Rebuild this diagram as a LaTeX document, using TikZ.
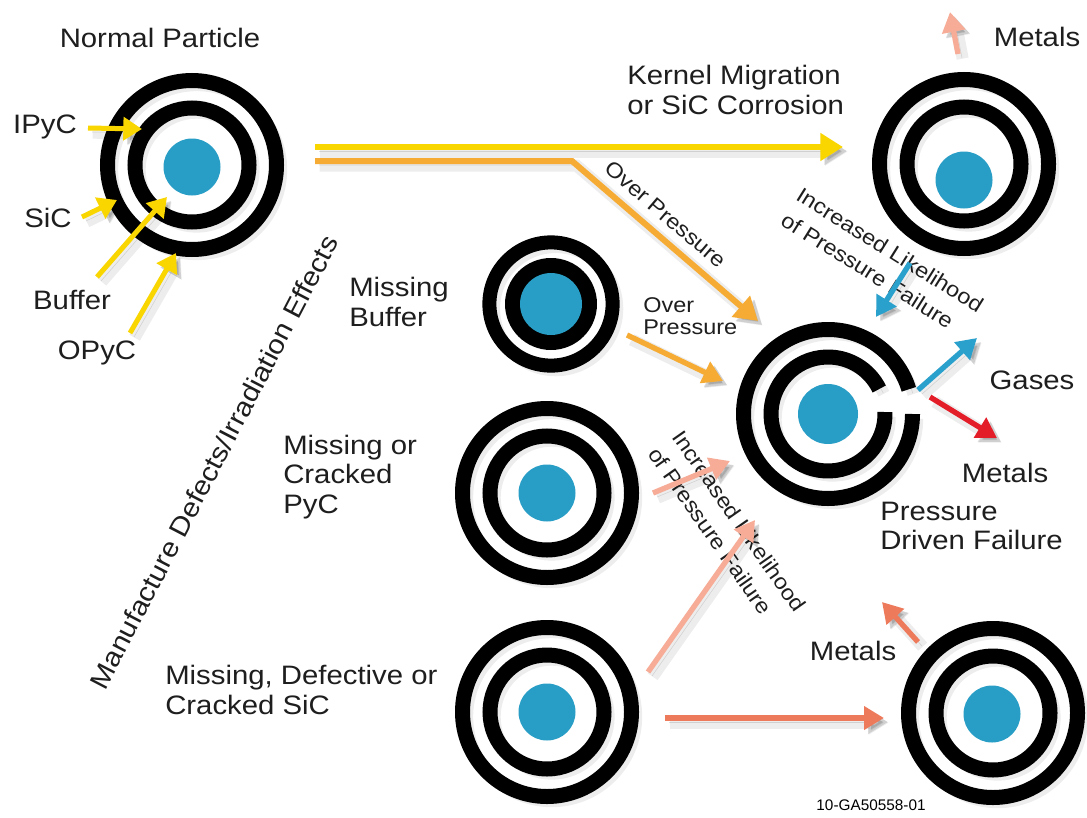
\documentclass[tikz,border=0pt]{standalone}
\usepackage{fontspec}
\setmainfont{Liberation Sans}[FakeStretch=1.1]
\newfontfamily\idfont{Liberation Sans}
\usetikzlibrary{arrows.meta}
\definecolor{kern}{RGB}{40,158,198}
\definecolor{yel}{RGB}{250,214,0}
\definecolor{org}{RGB}{246,172,52}
\definecolor{salm}{RGB}{246,172,150}
\definecolor{coral}{RGB}{238,122,92}
\definecolor{redar}{RGB}{228,30,40}
\definecolor{bluar}{RGB}{42,160,204}
\definecolor{txt}{RGB}{30,30,30}
\newcommand\stdparticle[3]{% name, ring centre, kernel centre
  \coordinate (#1) at #2;
  \draw[ring] (#1) circle[radius=84.5];
  \draw[ring] (#1) circle[radius=57];
  \fill[kern] #3 circle[radius=28.5];
}
\tikzset{
  shad/.style={
    preaction={draw=black, opacity=0.07, line width=+9pt, transform canvas={shift={(3.5pt,-3.5pt)}}},
    preaction={draw=black, opacity=0.12, transform canvas={shift={(3pt,-3pt)}}}},
  ring/.style={draw=black, line width=11.25pt, shad},
  lbl/.style={font=\fontsize{20}{22}\selectfont, text=txt, align=left, inner sep=0pt},
  sml/.style={font=\fontsize{16}{22}\selectfont, text=txt, align=left, inner sep=0pt},
  bigarr/.style={line width=4.5pt, line join=miter, -{Triangle[length=17pt,width=20pt]}, shad},
  midarr/.style={line width=4pt, -{Triangle[length=15pt,width=17pt]}, shad},
  smlarr/.style={line width=3.75pt, -{Triangle[length=14pt,width=17pt]}, shad},
}
\begin{document}
\begin{tikzpicture}[x=0.75pt,y=-0.75pt]
\useasboundingbox (0,0) rectangle (1087,817);
\fill[white] (0,0) rectangle (1087,817);

% ---------------- particles ----------------
\stdparticle{np}{(192,165)}{(192,167)}
\stdparticle{km}{(964,164)}{(964,180)}
\stdparticle{pyc}{(547,493)}{(547,493)}
\stdparticle{sic}{(547,712)}{(547,712)}
\stdparticle{br}{(993,713)}{(992,714)}

% missing buffer particle
\coordinate (mb) at (551,304);
\draw[black, line width=10.5pt, shad] (mb) circle[radius=61.6];
\fill[black] (mb) circle[radius=46];
\fill[kern] (mb) circle[radius=31];

% pressure driven failure particle (broken rings)
\coordinate (pf) at (828,414);
\draw[ring] (pf) ++(0:84.5) arc[start angle=0, end angle=343, radius=84.5];
\draw[ring] (pf) ++(-2:57) arc[start angle=-2, end angle=334, radius=57];
\fill[kern] (pf) circle[radius=30];

% ---------------- labels ----------------
\node[lbl] (tnp) at (160,38) {Normal Particle};
\node[lbl] (tipyc) at (45,127) {IPyC};
\node[lbl] (tsic) at (48,218) {SiC};
\node[lbl] (tbuf) at (72,300) {Buffer};
\node[lbl] (topyc) at (97,353) {OPyC};
\node[lbl, anchor=west] (tkm) at (627,90) {Kernel Migration\\or SiC Corrosion};
\node[lbl] (tmet1) at (1037,37) {Metals};
\node[lbl, anchor=west] (tmb) at (349,302) {Missing\\Buffer};
\node[lbl, anchor=west] (tpyc) at (283,477) {Missing or\\Cracked\\PyC};
\node[lbl, anchor=west] (tsicd) at (165,690) {Missing, Defective or\\Cracked SiC};
\node[lbl] (tgas) at (1032,380) {Gases};
\node[lbl] (tmet2) at (1005,473) {Metals};
\node[lbl, anchor=west] (tpdf) at (880,526) {Pressure\\Driven Failure};
\node[lbl] (tmet3) at (853,651) {Metals};
\node[lbl, rotate=62.5] (tman) at (214,462) {Manufacture Defects/Irradiation Effects};
\node[sml, anchor=north west, rotate=-40.5] (top1) at (613,159) {Over Pressure};
\node[font=\fontsize{16}{16.5}\selectfont, text=txt, align=left, inner sep=0pt, anchor=west] (top2) at (643,316) {Over\\Pressure};
\node[sml, anchor=north west, rotate=-32] (til1) at (803,186) {Increased Likelihood\\of Pressure Failure};
\node[sml, anchor=north west, rotate=-55] (til2) at (684,428) {Increased Likelihood\\of Pressure Failure};
\node[font=\idfont\fontsize{11.5}{12}\selectfont, inner sep=0pt] (tid) at (871,805) {10-GA50558-01};

% ---------------- arrows ----------------
\coordinate (a1s) at (88,128);  \coordinate (a1t) at (142,129);
\coordinate (a2s) at (82,217);  \coordinate (a2t) at (117,200);
\coordinate (a3s) at (97,277);  \coordinate (a3t) at (167,197);
\coordinate (a4s) at (130,333); \coordinate (a4t) at (176,253);
\draw[yel, smlarr] (a1s) -- (a1t);
\draw[yel, smlarr] (a2s) -- (a2t);
\draw[yel, smlarr] (a3s) -- (a3t);
\draw[yel, smlarr] (a4s) -- (a4t);

\coordinate (ys) at (315,147); \coordinate (yt) at (843,147);
\draw[yel, bigarr] (ys) -- (yt);
\coordinate (os) at (315,161); \coordinate (ob) at (572,161); \coordinate (ot) at (758,321);
\draw[org, bigarr] (os) -- (ob) -- (ot);
\coordinate (o2s) at (627,335); \coordinate (o2t) at (723,381);
\draw[org, midarr] (o2s) -- (o2t);

\coordinate (b1s) at (910,263); \coordinate (b1t) at (876,317);
\draw[bluar, midarr] (b1s) -- (b1t);
\coordinate (b2s) at (918,390); \coordinate (b2t) at (977,338);
\draw[bluar, midarr] (b2s) -- (b2t);
\coordinate (r1s) at (930,397); \coordinate (r1t) at (997,438);
\draw[redar, midarr] (r1s) -- (r1t);

\coordinate (s1s) at (958,54);  \coordinate (s1t) at (950,12);
\draw[salm, midarr] (s1s) -- (s1t);
\coordinate (s2s) at (653,493); \coordinate (s2t) at (730,461);
\draw[salm, midarr] (s2s) -- (s2t);
\coordinate (s3s) at (648,672); \coordinate (s3t) at (755,520);
\draw[salm, midarr] (s3s) -- (s3t);

\coordinate (c1s) at (665,718); \coordinate (c1t) at (884,718);
\draw[coral, midarr] (c1s) -- (c1t);
\coordinate (c2s) at (918,642); \coordinate (c2t) at (882,602);
\draw[coral, midarr] (c2s) -- (c2t);
\end{tikzpicture}
\end{document}
